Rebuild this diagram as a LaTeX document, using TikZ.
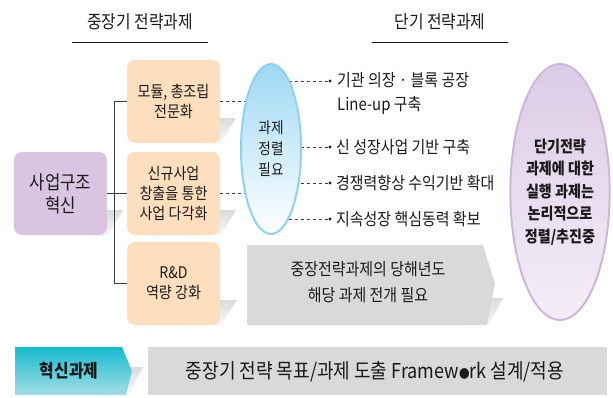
\documentclass[tikz,border=0pt]{standalone}
\usepackage{fontspec}
\setmainfont[FakeStretch=0.88]{Noto Sans CJK KR}
\usetikzlibrary{positioning,shapes.geometric}
\pgfdeclarelayer{background}
\pgfsetlayers{background,main}
\definecolor{peach}{HTML}{FDDFBE}
\definecolor{lilac}{HTML}{D9C4E1}
\definecolor{skyline}{HTML}{8ED2F0}
\definecolor{skytop}{HTML}{9ED9F4}
\definecolor{purline}{HTML}{CDB6DC}
\definecolor{purtop}{HTML}{DCCBE6}
\definecolor{purbot}{HTML}{F4EEF7}
\definecolor{barfill}{HTML}{D9D9D9}
\definecolor{tealtop}{HTML}{16BBCF}
\definecolor{tealbot}{HTML}{A3DEE7}
\definecolor{ink}{HTML}{1A1A1A}
\begin{document}
\begin{tikzpicture}[
    x=1pt, y=-1pt,
    text=ink,
    box/.style={rounded corners=8pt, minimum width=93pt, minimum height=83pt,
                inner sep=0pt, align=center, font=\fontsize{16}{20}\selectfont},
    title/.style={minimum width=136pt, minimum height=40pt, inner sep=0pt,
                  font=\fontsize{18}{18}\selectfont},
    item/.style={inner sep=0pt, align=left, font=\fontsize{17}{24}\selectfont},
    tree/.style={draw=ink!85, line width=1.1pt},
    dashline/.style={draw=ink!85, line width=0.9pt, dash pattern=on 3pt off 3pt},
    fold/.style={top color=black!14, bottom color=black!3, draw=none}]
    \useasboundingbox (0,0) rectangle (613,397);

    % Ueberschriften
    \node[title] (ttlA) at (140,22) {중장기 전략과제};
    \node[title] (ttlB) at (440,22) {단기 전략과제};
    \draw[line width=1.2pt, ink] (ttlA.south west) -- (ttlA.south east);
    \draw[line width=1.2pt, ink] (ttlB.south west) -- (ttlB.south east);

    % Kaesten
    \node[box, fill=lilac, font=\fontsize{19}{23}\selectfont] (biz) at (60.5,193.5) {사업구조\\혁신};
    \node[box, fill=peach] (mod) at (173.5,101.5) {모듈, 총조립\\전문화};
    \node[box, fill=peach] (new) at (173.5,193.5) {신규사업\\창출을 통한\\사업 다각화};
    \node[box, fill=peach] (rnd) at (173.5,283.5) {R\&D\\역량 강화};

    % Ellipsen
    \node[ellipse, minimum width=60pt, minimum height=170pt, inner sep=0pt,
          draw=skyline, line width=2pt, top color=skytop, bottom color=white,
          align=center, font=\fontsize{15.5}{21}\selectfont] (sort) at (271,149) {과제\\정렬\\필요};
    \node[ellipse, minimum width=96pt, minimum height=256pt, inner sep=0pt,
          draw=purline, line width=2pt, top color=purtop, bottom color=purbot,
          align=center, font=\bfseries\fontsize{16}{22.5}\selectfont] (exec) at (560,192)
          {단기전략\\과제에 대한\\실행 과제는\\논리적으로\\정렬/추진중};

    % Punkte
    \coordinate (d1) at (330,81);
    \coordinate (d2) at (330,147);
    \coordinate (d3) at (330,183);
    \coordinate (d4) at (330,219);
    \foreach \d in {d1,d2,d3,d4}
        \fill[ink] (\d) circle (1.6);
    \node[item, anchor=north west] (it1) at (337,72) {기관 의장 · 블록 공장\\Line-up 구축};
    \node[item, anchor=west, right=6pt of d2] (it2) {신 성장사업 기반 구축};
    \node[item, anchor=west, right=6pt of d3] (it3) {경쟁력향상 수익기반 확대};
    \node[item, anchor=west, right=6pt of d4] (it4) {지속성장 핵심동력 확보};

    % Pfeile
    \fill[barfill] (247,245) -- (483,245) -- (495,284) -- (487,325) -- (247,325) -- cycle;
    \node[align=center, font=\fontsize{17}{26}\selectfont] (cur) at (368,282)
          {중장전략과제의 당해년도\\해당 과제 전개 필요};
    \shade[top color=tealtop, bottom color=tealbot] (15,347) -- (122,347) -- (132,371) -- (126,395) -- (15,395) -- cycle;
    \node[font=\bfseries\fontsize{18}{18}\selectfont] (inno) at (69,371) {혁신과제};
    \fill[barfill] (148,347) rectangle (607,395);
    \node[font=\fontsize{20.5}{20.5}\selectfont] (frame) at (375,372)
          {중장기 전략 목표/과제 도출 Framew{\fontsize{12}{12}\selectfont ●}rk 설계/적용};

    % Hintergrund
    \begin{pgfonlayer}{background}
        \shade[fold] (200,118) -- (236,118) -- (221,143) -- (200,143) -- cycle;
        \shade[fold] (200,210) -- (236,210) -- (221,235) -- (200,235) -- cycle;
        \shade[fold] (200,300) -- (237,300) -- (221,325) -- (200,325) -- cycle;
        \shade[fold] (90,210) -- (123,210) -- (108,235) -- (90,235) -- cycle;
        \shade[fold] (470,298) -- (503,298) -- (489,325) -- (470,325) -- cycle;
        \shade[fold] (120,367) -- (143,367) -- (130,392) -- (120,392) -- cycle;
        % Verbindungen
        \draw[tree] (biz.east) -- (new.west);
        \draw[tree] (mod.west) -- ++(-12,0) |- (rnd.west);
        \draw[dashline] (mod.east) -- (mod.east -| sort.center);
        \draw[dashline] (new.east) -- (new.east -| sort.center);
        \foreach \d in {d1,d2,d3,d4}
            \draw[dashline] (sort.center |- \d) -- (\d);
    \end{pgfonlayer}
\end{tikzpicture}
\end{document}
